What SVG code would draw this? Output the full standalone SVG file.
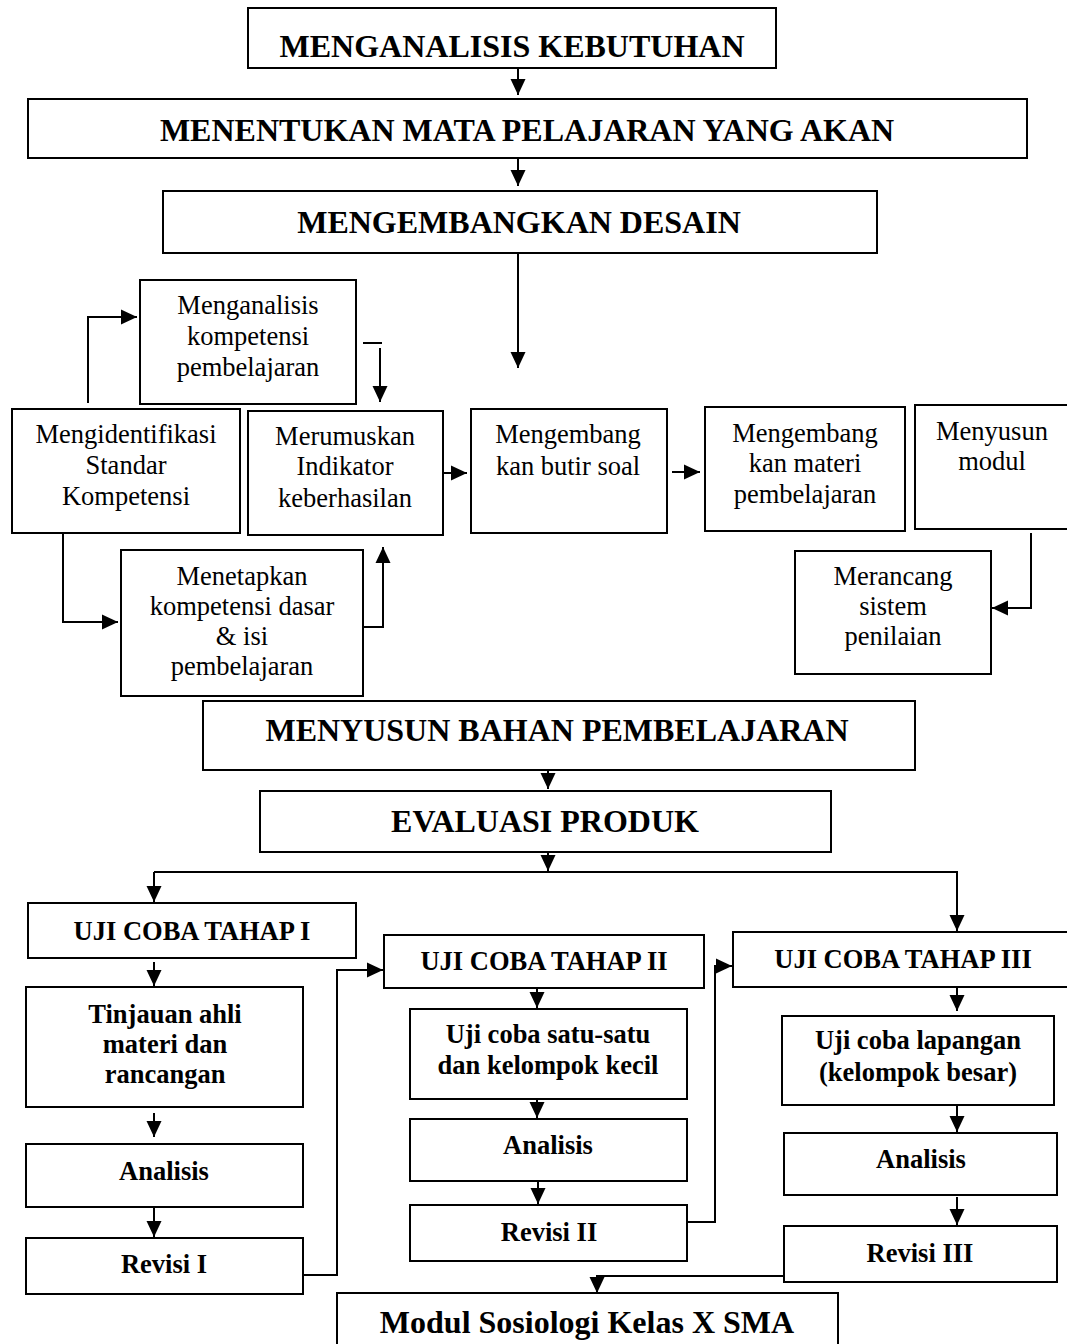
<svg xmlns="http://www.w3.org/2000/svg" width="1067" height="1344" viewBox="0 0 1067 1344">
<defs>
<style>
.box{fill:#fff;stroke:#000;stroke-width:2}
.t{font-family:"Liberation Serif","Times New Roman",serif;font-size:26.5px;text-anchor:middle;fill:#000}
.b{font-weight:bold}
.h{font-family:"Liberation Serif","Times New Roman",serif;font-size:32px;font-weight:bold;text-anchor:middle;fill:#000}
.c{fill:none;stroke:#000;stroke-width:2}
</style>
<marker id="ah" markerUnits="userSpaceOnUse" markerWidth="17" markerHeight="16" refX="16" refY="8" orient="auto">
<path d="M0,0.5 L16,8 L0,15.5 z" fill="#000"/>
</marker>
</defs>
<rect width="1067" height="1344" fill="#fff"/>

<g id="connectors">
<line class="c" x1="518" y1="68" x2="518" y2="95" marker-end="url(#ah)"/>
<line class="c" x1="518" y1="158" x2="518" y2="186" marker-end="url(#ah)"/>
<line class="c" x1="518" y1="253" x2="518" y2="368" marker-end="url(#ah)"/>
<polyline class="c" points="88,403 88,317 137,317" marker-end="url(#ah)"/>
<line class="c" x1="363" y1="343" x2="382" y2="343"/>
<line class="c" x1="380" y1="348" x2="380" y2="402" marker-end="url(#ah)"/>
<line class="c" x1="443" y1="473" x2="467" y2="473" marker-end="url(#ah)"/>
<polyline class="c" points="63,533 63,622 118,622" marker-end="url(#ah)"/>
<polyline class="c" points="363,627 383,627 383,547" marker-end="url(#ah)"/>
<line class="c" x1="672" y1="472" x2="700" y2="472" marker-end="url(#ah)"/>
<polyline class="c" points="1031,533 1031,608 992,608" marker-end="url(#ah)"/>
<line class="c" x1="548" y1="770" x2="548" y2="789" marker-end="url(#ah)"/>
<line class="c" x1="548" y1="852" x2="548" y2="871" marker-end="url(#ah)"/>
<line class="c" x1="154" y1="872" x2="958" y2="872"/>
<line class="c" x1="154" y1="872" x2="154" y2="902" marker-end="url(#ah)"/>
<line class="c" x1="957" y1="872" x2="957" y2="931" marker-end="url(#ah)"/>
<line class="c" x1="154" y1="962" x2="154" y2="986" marker-end="url(#ah)"/>
<line class="c" x1="154" y1="1113" x2="154" y2="1137" marker-end="url(#ah)"/>
<line class="c" x1="154" y1="1207" x2="154" y2="1237" marker-end="url(#ah)"/>
<polyline class="c" points="303,1275 337,1275 337,970 383,970" marker-end="url(#ah)"/>
<line class="c" x1="537" y1="988" x2="537" y2="1008" marker-end="url(#ah)"/>
<line class="c" x1="537" y1="1098" x2="537" y2="1118" marker-end="url(#ah)"/>
<line class="c" x1="538" y1="1181" x2="538" y2="1204" marker-end="url(#ah)"/>
<polyline class="c" points="687,1222 715,1222 715,966 732,966" marker-end="url(#ah)"/>
<line class="c" x1="957" y1="987" x2="957" y2="1011" marker-end="url(#ah)"/>
<line class="c" x1="957" y1="1105" x2="957" y2="1132" marker-end="url(#ah)"/>
<line class="c" x1="957" y1="1197" x2="957" y2="1225" marker-end="url(#ah)"/>
<polyline class="c" points="784,1276 597,1276 597,1293" marker-end="url(#ah)"/>
</g>

<g id="n-kebutuhan"><rect class="box" x="248" y="8" width="528" height="60"/><text class="h" x="512" y="57">MENGANALISIS KEBUTUHAN</text></g>
<g id="n-mapel"><rect class="box" x="28" y="99" width="999" height="59"/><text class="h" x="527" y="141">MENENTUKAN MATA PELAJARAN YANG AKAN</text></g>
<g id="n-desain"><rect class="box" x="163" y="191" width="714" height="62"/><text class="h" x="519" y="233">MENGEMBANGKAN DESAIN</text></g>

<g id="n-menganalisis"><rect class="box" x="140" y="280" width="216" height="124"/><text class="t"><tspan x="248" y="314">Menganalisis</tspan><tspan x="248" y="345">kompetensi</tspan><tspan x="248" y="376">pembelajaran</tspan></text></g>
<g id="n-mengidentifikasi"><rect class="box" x="12" y="409" width="228" height="124"/><text class="t"><tspan x="126" y="443">Mengidentifikasi</tspan><tspan x="126" y="474">Standar</tspan><tspan x="126" y="505">Kompetensi</tspan></text></g>
<g id="n-merumuskan"><rect class="box" x="248" y="411" width="195" height="124"/><text class="t"><tspan x="345" y="445">Merumuskan</tspan><tspan x="345" y="475">Indikator</tspan><tspan x="345" y="507">keberhasilan</tspan></text></g>
<g id="n-menetapkan"><rect class="box" x="121" y="550" width="242" height="146"/><text class="t"><tspan x="242" y="585">Menetapkan</tspan><tspan x="242" y="615">kompetensi dasar</tspan><tspan x="242" y="645">&amp; isi</tspan><tspan x="242" y="675">pembelajaran</tspan></text></g>
<g id="n-butir"><rect class="box" x="471" y="409" width="196" height="124"/><text class="t"><tspan x="568" y="443">Mengembang</tspan><tspan x="568" y="475">kan butir soal</tspan></text></g>
<g id="n-materi"><rect class="box" x="705" y="407" width="200" height="124"/><text class="t"><tspan x="805" y="442">Mengembang</tspan><tspan x="805" y="472">kan materi</tspan><tspan x="805" y="503">pembelajaran</tspan></text></g>
<g id="n-modul"><rect class="box" x="915" y="405" width="160" height="124"/><text class="t"><tspan x="992" y="440">Menyusun</tspan><tspan x="992" y="470">modul</tspan></text></g>
<g id="n-merancang"><rect class="box" x="795" y="551" width="196" height="123"/><text class="t"><tspan x="893" y="585">Merancang</tspan><tspan x="893" y="615">sistem</tspan><tspan x="893" y="645">penilaian</tspan></text></g>

<g id="n-bahan"><rect class="box" x="203" y="701" width="712" height="69"/><text class="h" x="557" y="741">MENYUSUN BAHAN PEMBELAJARAN</text></g>
<g id="n-evaluasi"><rect class="box" x="260" y="791" width="571" height="61"/><text class="h" x="545" y="832">EVALUASI PRODUK</text></g>

<g id="n-uji1"><rect class="box" x="28" y="903" width="328" height="55"/><text class="t b" x="192" y="940">UJI COBA TAHAP I</text></g>
<g id="n-tinjauan"><rect class="box" x="26" y="987" width="277" height="120"/><text class="t b"><tspan x="165" y="1023">Tinjauan ahli</tspan><tspan x="165" y="1053">materi dan</tspan><tspan x="165" y="1083">rancangan</tspan></text></g>
<g id="n-analisis1"><rect class="box" x="26" y="1144" width="277" height="63"/><text class="t b" x="164" y="1180">Analisis</text></g>
<g id="n-revisi1"><rect class="box" x="26" y="1238" width="277" height="56"/><text class="t b" x="164" y="1273">Revisi I</text></g>

<g id="n-uji2"><rect class="box" x="384" y="935" width="320" height="53"/><text class="t b" x="544" y="970">UJI COBA TAHAP II</text></g>
<g id="n-satu"><rect class="box" x="410" y="1009" width="277" height="90"/><text class="t b"><tspan x="548" y="1043">Uji coba satu-satu</tspan><tspan x="548" y="1074">dan kelompok kecil</tspan></text></g>
<g id="n-analisis2"><rect class="box" x="410" y="1119" width="277" height="62"/><text class="t b" x="548" y="1154">Analisis</text></g>
<g id="n-revisi2"><rect class="box" x="410" y="1205" width="277" height="56"/><text class="t b" x="549" y="1241">Revisi II</text></g>

<g id="n-uji3"><rect class="box" x="733" y="932" width="340" height="55"/><text class="t b" x="903" y="968">UJI COBA TAHAP III</text></g>
<g id="n-lapangan"><rect class="box" x="782" y="1016" width="272" height="89"/><text class="t b"><tspan x="918" y="1049">Uji coba lapangan</tspan><tspan x="918" y="1081">(kelompok besar)</tspan></text></g>
<g id="n-analisis3"><rect class="box" x="784" y="1133" width="273" height="62"/><text class="t b" x="921" y="1168">Analisis</text></g>
<g id="n-revisi3"><rect class="box" x="784" y="1226" width="273" height="56"/><text class="t b" x="920" y="1262">Revisi III</text></g>

<g id="n-hasil"><rect class="box" x="337" y="1293" width="501" height="60"/><text class="h" x="587" y="1333">Modul Sosiologi Kelas X SMA</text></g>
</svg>
